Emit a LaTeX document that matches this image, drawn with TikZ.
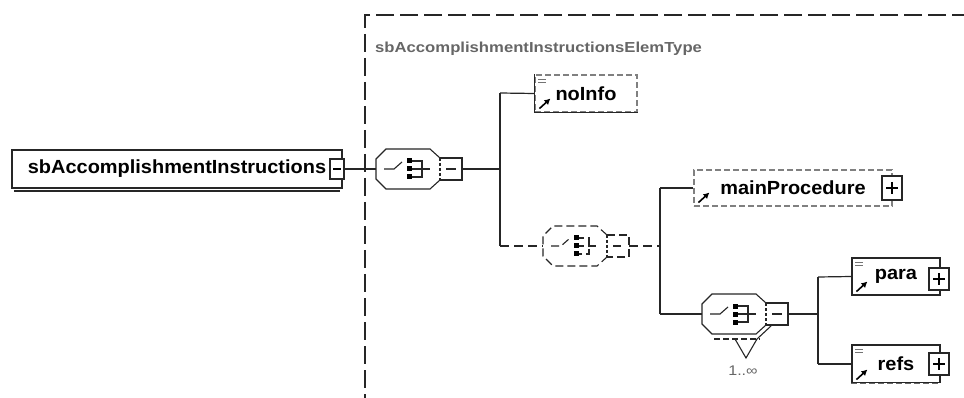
\documentclass[tikz,border=0pt]{standalone}
\usepackage{fontspec}
\setmainfont{Liberation Sans}[FakeStretch=1.05]
\newfontfamily\typefont{Liberation Sans}[FakeStretch=1.15]
\usetikzlibrary{arrows.meta}

\tikzset{
  elem/.style={rectangle,draw=black!85,line width=1.1pt,inner sep=0pt,
    font=\fontsize{19}{22}\selectfont\bfseries},
  optelem/.style={elem,draw=black!50,dash pattern=on 6pt off 3pt},
  pmbox/.style={rectangle,draw=black!85,line width=1.1pt,fill=white,inner sep=0pt},
  conn/.style={draw=black!85,line width=1.2pt},
  optconn/.style={conn,dash pattern=on 9pt off 5pt},
  grey label/.style={text=black!60,inner sep=0pt}
}

% choice compositor: name, x, y, extra style
\newcommand{\choiceicon}[4]{%
  \begin{scope}[shift={(#2,#3)},line width=1.1pt,draw=black!85,#4]
    \coordinate (#1-in) at (0,0);
    \coordinate (#1-out) at (86,0);
    \draw[fill=white] (64,-11) -- (54,-20) -- (10,-20) -- (0,-10)
      -- (0,10) -- (10,20) -- (54,20) -- (64,11);
    \draw (64,-11) -- (86,-11) -- (86,11) -- (64,11);
    \draw[dash pattern=on 3pt off 2pt] (64,-11) -- (64,11);
    \draw (70,0) -- (80,0);
    \draw (8,0) -- (18,0) -- (26,-7);
    \draw (33,-8) -- (46,-8) -- (46,8) -- (33,8) (33,0) -- (54,0);
    \foreach \dy in {-8,0,8}
      \fill[black,solid] (30.5,\dy-2.5) rectangle (35.5,\dy+2.5);
  \end{scope}}

% doc lines and ref arrow in an element box
\newcommand{\docmarks}[1]{%
  \draw[black!55,line width=0.8pt] ([shift={(4,5)}]#1.north west) -- +(8,0)
    ([shift={(4,8)}]#1.north west) -- +(8,0);}
\newcommand{\refarrow}[1]{%
  \draw[black,line width=1.6pt,-{Latex[length=6pt,width=6.5pt]}]
    ([shift={(5,-4)}]#1.south west) -- +(11,-10);}

\begin{document}
\begin{tikzpicture}[x=1pt,y=-1pt]
  \useasboundingbox (0,0) rectangle (964,398);

  % complex type frame
  \draw[black!85,line width=1.2pt,dash pattern=on 18pt off 6pt]
    (970,15) -- (365,15) -- (365,405);
  \node[grey label,anchor=base west,font=\typefont\fontsize{14.5}{17}\selectfont\bfseries]
    (typename) at (375,53) {sbAccomplishmentInstructionsElemType};

  % elements
  \node[elem,minimum width=330,minimum height=38] (root) at (177,169)
    {sbAccomplishmentInstructions};
  \draw[black!85,line width=1.1pt] (14,191) -- (340,191);
  \node[pmbox,minimum width=14,minimum height=20] (rootm) at (337,169) {};
  \draw[line width=1.1pt] (333,169) -- (341,169);

  \node[optelem,minimum width=102,minimum height=37] (noinfo) at (586,93.5) {noInfo};
  \draw[black!85,line width=1.3pt] (noinfo.north west) -- (noinfo.south west)
    -- (noinfo.south east);
  \docmarks{noinfo}
  \refarrow{noinfo}

  \node[optelem,minimum width=198,minimum height=36] (mainproc) at (793,188)
    {mainProcedure};
  \refarrow{mainproc}
  \node[pmbox,minimum width=20,minimum height=24] (mainprocp) at (892,188) {};
  \draw[line width=1.4pt] (886,188) -- (898,188) (892,182) -- (892,194);

  \node[elem,minimum width=88,minimum height=37] (para) at (896,276.5) {para};
  \docmarks{para}
  \refarrow{para}
  \node[pmbox,minimum width=20,minimum height=22] (parap) at (939,279) {};
  \draw[line width=1.4pt] (933,279) -- (945,279) (939,273) -- (939,285);

  \node[elem,minimum width=88,minimum height=38] (refs) at (896,364) {refs};
  \draw[white,line width=1.6pt] (refs.south west) -- (refs.south east);
  \draw[black!60,line width=1.1pt,dash pattern=on 6pt off 3pt]
    (refs.south west) -- (refs.south east);
  \docmarks{refs}
  \refarrow{refs}
  \node[pmbox,minimum width=20,minimum height=22] (refsp) at (939,364) {};
  \draw[line width=1.4pt] (933,364) -- (945,364) (939,358) -- (939,370);

  % compositors
  \choiceicon{cha}{376}{169}{}
  \choiceicon{chb}{543}{246}{dash pattern=on 8pt off 4pt}
  \choiceicon{chc}{702}{314}{}
  \draw[black!85,line width=1.1pt,dash pattern=on 6pt off 3pt] (714,339) -- (760,339);
  \draw[black!85,line width=1.1pt] (735,339) -- (746,358) -- (757,339) -- (771,326);
  \node[grey label,font=\typefont\fontsize{14}{16}\selectfont] (mult) at (743,371) {1..∞};

  % bus points
  \coordinate (busa) at (500,169);
  \coordinate (busa1) at (500,93);
  \coordinate (busa2) at (500,246);
  \coordinate (busb) at (660,246);
  \coordinate (busb1) at (660,188);
  \coordinate (busb2) at (660,314);
  \coordinate (busc) at (818,314);
  \coordinate (busc1) at (818,277);
  \coordinate (busc2) at (818,364);

  \foreach \from/\to in {rootm.east/cha-in, cha-out/busa, busa1/busa2,
      busa1/noinfo.west, busb1/busb2, busb1/mainproc.west, busb2/chc-in,
      chc-out/busc, busc1/busc2, busc1/para.west, busc2/refs.west}
    \draw[conn] (\from) -- (\to);
  \foreach \from/\to in {busa2/chb-in, chb-out/busb}
    \draw[optconn] (\from) -- (\to);

\end{tikzpicture}
\end{document}
